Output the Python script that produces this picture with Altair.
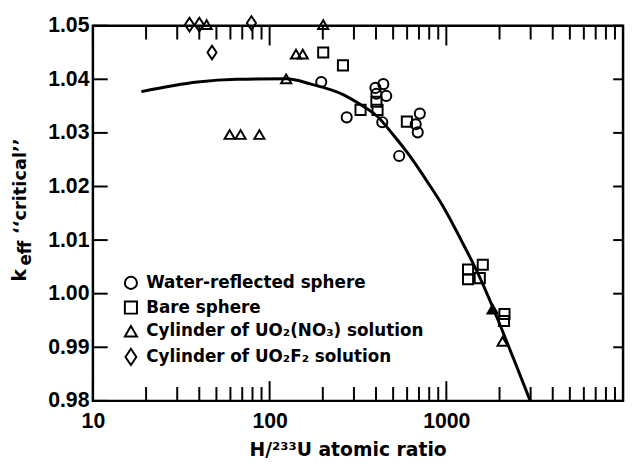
import altair as alt
import pandas as pd

FONT = "Liberation Sans"
FONT2 = "DejaVu Sans"

series_names = [
    "Water-reflected sphere",
    "Bare sphere",
    "Cylinder of UO₂(NO₃) solution",
    "Cylinder of UO₂F₂ solution",
]

water_x = [196, 273, 397, 440, 457, 402, 434, 541, 708, 671, 689]
water_y = [1.0395, 1.0329, 1.0384, 1.0391, 1.0369, 1.0373, 1.0320, 1.0257, 1.0336, 1.0316, 1.0301]

bare_x = [201, 260, 327, 402, 408, 598, 1327, 1608, 1327, 1546, 2133, 2120]
bare_y = [1.0450, 1.0426, 1.0343, 1.0358, 1.0343, 1.0321, 1.0045, 1.0054, 1.0027, 1.0029, 0.9962, 0.9949]

nitrate_x = [44, 124, 141, 154, 201, 59.4, 68.5, 87.5, 1828, 2080]
nitrate_y = [1.0502, 1.0401, 1.0447, 1.0447, 1.0502, 1.0297, 1.0297, 1.0297, 0.9971, 0.9911]
nitrate_solid = [False, False, False, False, False, False, False, False, True, False]

fluoride_x = [35.2, 40.0, 47.2, 78.9]
fluoride_y = [1.0502, 1.0502, 1.0450, 1.0505]

curve_x = [18.8, 39.1, 65.4, 124.5, 171.7, 262.4, 326.6, 406.4, 499, 621, 773, 950,
           1213, 1528, 1927, 2399, 2985]
curve_y = [1.0377, 1.0395, 1.0400, 1.0401, 1.0391, 1.0371, 1.0353, 1.0331, 1.0297, 1.0257, 1.0211,
           1.0165, 1.0100, 1.0034, 0.9957, 0.9879, 0.9800]

x_major = [10, 100, 1000]
x_minor = [20, 30, 40, 50, 60, 70, 80, 90,
           200, 300, 400, 500, 600, 700, 800, 900,
           2000, 3000, 4000, 5000, 6000, 7000, 8000, 9000]
y_ticks = [0.98, 0.99, 1.00, 1.01, 1.02, 1.03, 1.04, 1.05]

x_title = "H/²³³U atomic ratio"
y_title_parts = ["k", "eff", "‘‘critical’’"]

W, H = 537, 380

# ---- tables
rows = []
for xs, ys, name in [(water_x, water_y, series_names[0]), (bare_x, bare_y, series_names[1]),
                     (fluoride_x, fluoride_y, series_names[3])]:
    for a, b in zip(xs, ys):
        rows.append({"x": a, "y": b, "series": name, "solid": False})
for a, b, s in zip(nitrate_x, nitrate_y, nitrate_solid):
    rows.append({"x": a, "y": b, "series": series_names[2], "solid": s})
pts = pd.DataFrame(rows)
curve_df = pd.DataFrame({"x": curve_x, "y": curve_y})
xmaj_df = pd.DataFrame({"x": x_major})
xmin_df = pd.DataFrame({"x": x_minor})
yt_df = pd.DataFrame({"y": y_ticks})

xscale = alt.Scale(type="log", domain=[10, 10000], nice=False)
yscale = alt.Scale(domain=[0.98, 1.05], nice=False, zero=False)

x_axis = alt.Axis(values=x_major, format="d", ticks=False, tickSize=0, domain=False, grid=False,
                  labelFont=FONT, labelFontSize=21.5, labelFontWeight="bold", labelColor="black",
                  labelPadding=10, labelFlush=False,
                  titleFont=FONT2, titleFontSize=19, titleFontWeight="bold", titleColor="black",
                  titlePadding=9, titleX=258)
y_axis = alt.Axis(values=y_ticks, format=".2f", ticks=False, tickSize=0, domain=False, grid=False,
                  labelFont=FONT, labelFontSize=21.5, labelFontWeight="bold", labelColor="black",
                  labelPadding=4, title=None)

def X():
    return alt.X("x:Q", scale=xscale, axis=x_axis, title=x_title)

def Y():
    return alt.Y("y:Q", scale=yscale, axis=y_axis, title=None)

diamond = "M0,-1.35L0.9,0L0,1.35L-0.9,0Z"

curve = alt.Chart(curve_df).mark_line(color="black", strokeWidth=3, interpolate="monotone").encode(x=X(), y=Y())

points = alt.Chart(pts).mark_point(filled=False, color="black", strokeWidth=2, size=105, opacity=1).encode(
    x=X(), y=Y(),
    shape=alt.Shape("series:N",
                    scale=alt.Scale(domain=series_names, range=["circle", "square", "triangle-up", diamond]),
                    legend=alt.Legend(title=None, orient="none", legendX=30, legendY=252, padding=0,
                                      symbolSize=150, symbolStrokeWidth=2, symbolStrokeColor="black",
                                      labelFont=FONT2, labelFontSize=17, labelFontWeight="bold",
                                      labelColor="black", labelOffset=7, rowPadding=4, labelLimit=400)),
    fill=alt.condition("datum.solid", alt.value("black"), alt.value("transparent")),
)

tick_style = dict(color="black", strokeWidth=2)
bot_major = alt.Chart(xmaj_df).mark_rule(**tick_style).encode(x=X(), y=alt.value(H), y2=alt.value(H - 20))
bot_minor = alt.Chart(xmin_df).mark_rule(**tick_style).encode(x=X(), y=alt.value(H), y2=alt.value(H - 14))
top_major = alt.Chart(xmaj_df).mark_rule(**tick_style).encode(x=X(), y=alt.value(0), y2=alt.value(20))
top_minor = alt.Chart(xmin_df).mark_rule(**tick_style).encode(x=X(), y=alt.value(0), y2=alt.value(14))
left_t = alt.Chart(yt_df).mark_rule(**tick_style).encode(y=Y(), x=alt.value(0), x2=alt.value(15))
right_t = alt.Chart(yt_df).mark_rule(**tick_style).encode(y=Y(), x=alt.value(W), x2=alt.value(W - 10))

yt = pd.DataFrame({"t": y_title_parts})
title_k = alt.Chart(yt).transform_filter(alt.datum.t == y_title_parts[0]).mark_text(
    font=FONT2, fontSize=19, fontWeight="bold", color="black", angle=270, align="left", baseline="alphabetic"
).encode(text="t:N", x=alt.value(-68), y=alt.value(259))
title_eff = alt.Chart(yt).transform_filter(alt.datum.t == y_title_parts[1]).mark_text(
    font=FONT2, fontSize=17, fontWeight="bold", color="black", angle=270, align="left", baseline="alphabetic"
).encode(text="t:N", x=alt.value(-63), y=alt.value(243))
title_crit = alt.Chart(yt).transform_filter(alt.datum.t == y_title_parts[2]).mark_text(
    font=FONT2, fontSize=18, fontWeight="bold", color="black", angle=270, align="left", baseline="alphabetic"
).encode(text="t:N", x=alt.value(-68), y=alt.value(211))

chart = alt.layer(
    bot_major, bot_minor, top_major, top_minor, left_t, right_t,
    curve, points, title_k, title_eff, title_crit
).properties(
    width=W, height=H,
    autosize=alt.AutoSizeParams(type="none"),
    padding={"left": 86, "top": 15, "right": 4, "bottom": 60},
    background="white",
).configure_view(stroke="black", strokeWidth=2.5)

chart.save("out.html", embed_options={"renderer": "svg", "actions": False})
